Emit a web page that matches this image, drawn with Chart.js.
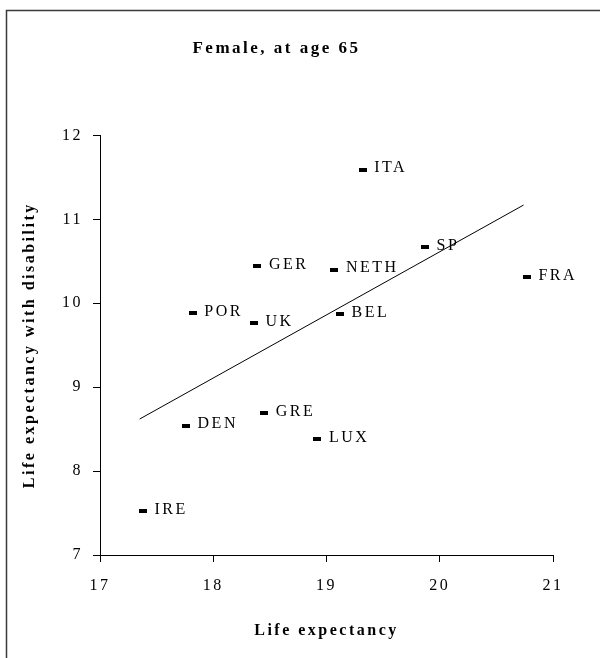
<!DOCTYPE html>
<html>
<head>
<meta charset="utf-8">
<script src="https://cdn.jsdelivr.net/npm/chart.js@4/dist/chart.umd.min.js"></script>
<style>
  html, body { margin: 0; padding: 0; background: #fff; }
  #wrap { width: 600px; height: 658px; position: relative; }
</style>
</head>
<body>
<div id="wrap"><canvas id="lifeChart"></canvas></div>
<script>
const countries      = ['ITA', 'SP', 'GER', 'NETH', 'FRA', 'POR', 'BEL', 'UK', 'GRE', 'DEN', 'LUX', 'IRE'];
const lifeExp        = [19.32, 19.87, 18.39, 19.07, 20.77, 17.82, 19.12, 18.36, 18.45, 17.76, 18.92, 17.38];
const withDisability = [11.59, 10.67, 10.44, 10.40, 10.31, 9.88, 9.87, 9.76, 8.69, 8.54, 8.38, 7.52];

// fitted line, drawn from the lowest to the highest life expectancy
const trendX = [17.35, 20.74];
const trendY = [8.62, 11.17];

const xRange = [17, 21];
const yRange = [7, 12];

const serif = '"Liberation Serif", "DejaVu Serif", serif';

/// small flat black dash used as the point marker
const dash = document.createElement('canvas');
dash.width = 8;
dash.height = 4;
dash.getContext('2d').fillRect(0, 0, 8, 4);

/// frame round the chart, country names next to the points
const extras = {
    id: 'extras',
    beforeLayout(chart) {
        chart.ctx.letterSpacing = '2.5px';
    },
    beforeDraw(chart) {
        const ctx = chart.ctx;
        ctx.save();
        ctx.strokeStyle = '#3a3a3a';
        ctx.lineWidth = 1.5;
        ctx.beginPath();
        ctx.moveTo(6.5, 658);
        ctx.lineTo(6.5, 10.5);
        ctx.lineTo(600, 10.5);
        ctx.stroke();
        ctx.restore();
        ctx.letterSpacing = '2.5px';
    },
    afterDatasetsDraw(chart) {
        const ctx = chart.ctx;
        const meta = chart.getDatasetMeta(0);
        ctx.save();
        ctx.font = '16px ' + serif;
        ctx.letterSpacing = '2.5px';
        ctx.fillStyle = '#000';
        ctx.textAlign = 'left';
        ctx.textBaseline = 'alphabetic';
        meta.data.forEach((pt, i) => {
            ctx.fillText(countries[i], pt.x + 11.5, pt.y + 2.5);
        });
        ctx.restore();
    }
};

const lifeChart = new Chart('lifeChart', {
    type: 'scatter',
    data: {
        datasets: [
            {
                label: 'Countries',
                data: lifeExp.map((x, i) => ({ x: x, y: withDisability[i] })),
                pointStyle: dash,
                backgroundColor: '#000',
                borderColor: '#000'
            },
            {
                label: 'Trend',
                type: 'line',
                data: trendX.map((x, i) => ({ x: x, y: trendY[i] })),
                showLine: true,
                borderColor: '#000',
                borderWidth: 1,
                pointRadius: 0,
                fill: false
            }
        ]
    },
    options: {
        responsive: true,
        maintainAspectRatio: false,
        animation: false,
        layout: {
            padding: { left: 0, right: 47, top: 0, bottom: 0 }
        },
        plugins: {
            legend: { display: false },
            tooltip: { enabled: false },
            title: {
                display: true,
                text: 'Female, at age 65',
                color: '#000',
                font: { family: serif, size: 17, weight: 'bold' },
                padding: { top: 38, bottom: 77 }
            }
        },
        scales: {
            x: {
                type: 'linear',
                min: xRange[0],
                max: xRange[1],
                ticks: {
                    stepSize: 1,
                    color: '#000',
                    padding: 14,
                    font: { family: serif, size: 16 }
                },
                grid: { drawOnChartArea: false, tickLength: 7, tickColor: '#000' },
                border: { color: '#000', width: 1 },
                title: {
                    display: true,
                    text: 'Life expectancy',
                    color: '#000',
                    font: { family: serif, size: 16, weight: 'bold' },
                    padding: { top: 0, bottom: 18 }
                },
                afterFit(scale) { scale.height = 103; }
            },
            y: {
                type: 'linear',
                min: yRange[0],
                max: yRange[1],
                ticks: {
                    stepSize: 1,
                    color: '#000',
                    padding: 10,
                    font: { family: serif, size: 16 }
                },
                grid: { drawOnChartArea: false, tickLength: 7, tickColor: '#000' },
                border: { color: '#000', width: 1 },
                title: {
                    display: true,
                    text: 'Life expectancy with disability',
                    color: '#000',
                    font: { family: serif, size: 16, weight: 'bold' },
                    padding: { top: 20, bottom: 0 }
                },
                afterFit(scale) { scale.width = 100; }
            }
        }
    },
    plugins: [extras]
});
</script>
</body>
</html>
